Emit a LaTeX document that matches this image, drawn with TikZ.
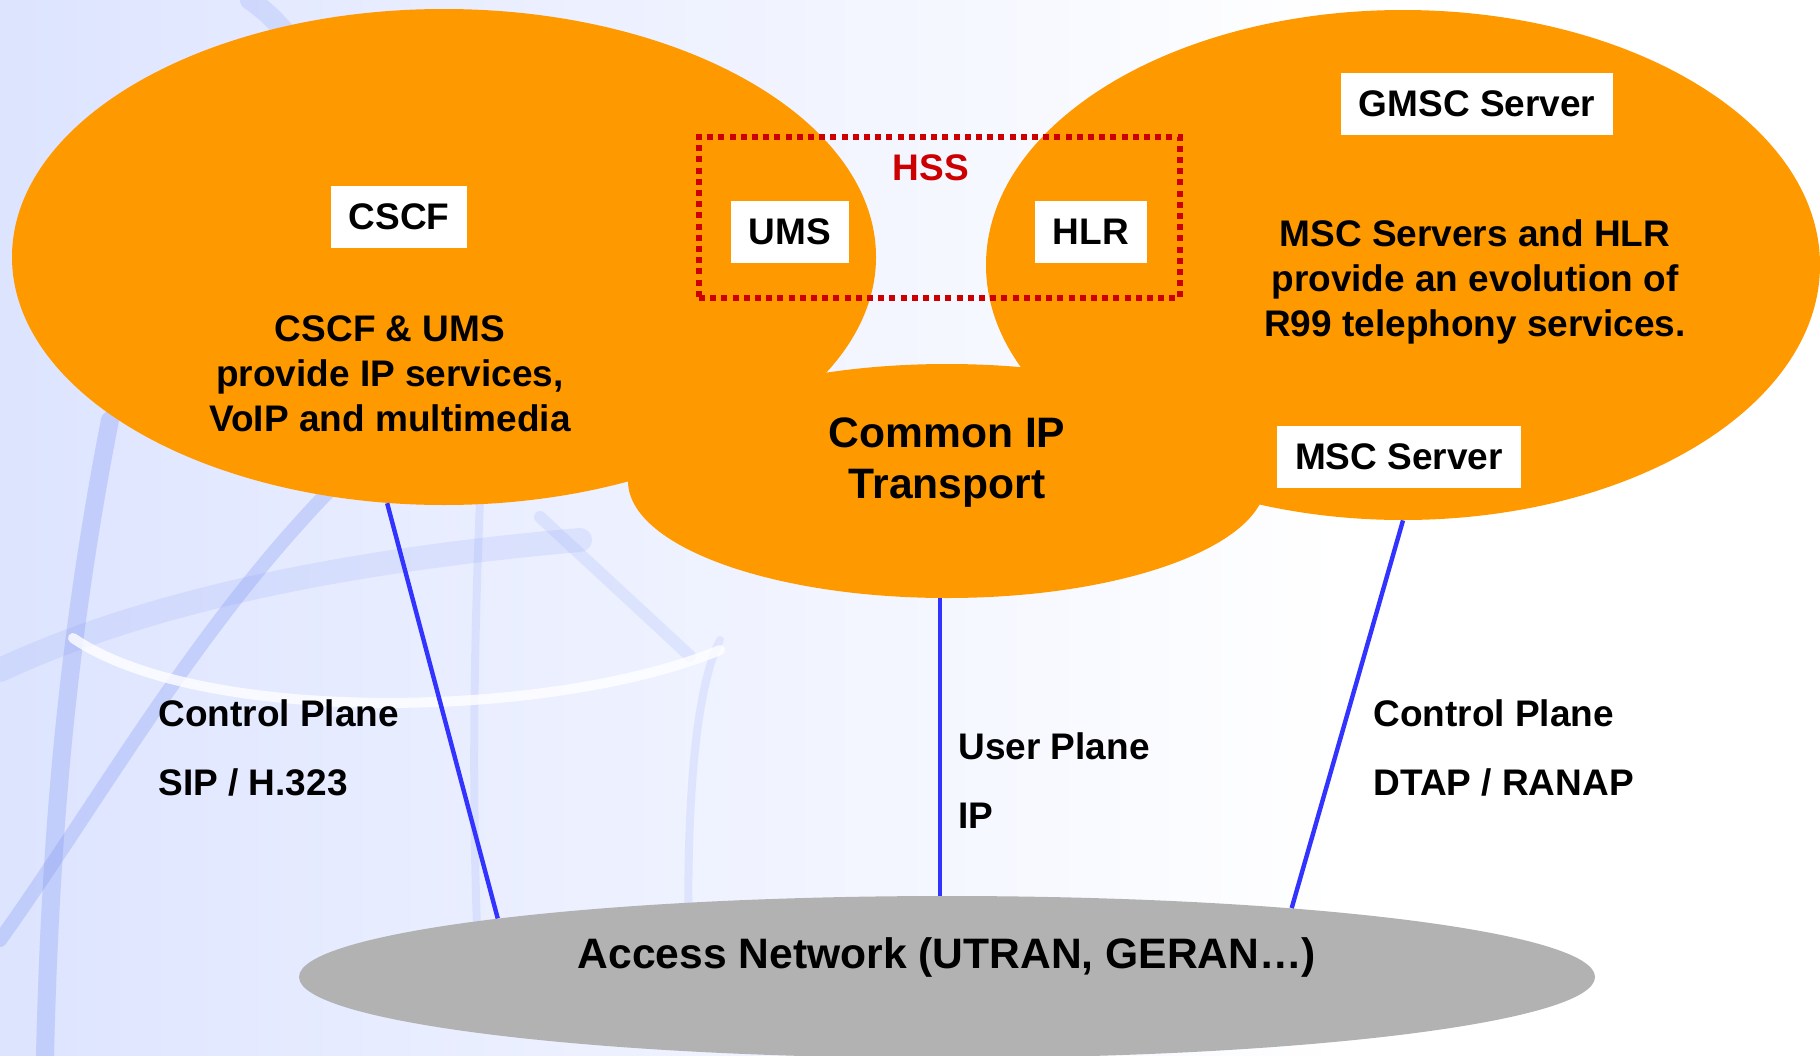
\documentclass[tikz,border=0pt]{standalone}
\usepackage{fontspec}
\setmainfont{Liberation Sans}
\usetikzlibrary{shapes.geometric,calc}
\definecolor{cloudorange}{HTML}{FF9900}
\definecolor{accessgray}{HTML}{B2B2B2}
\definecolor{planeblue}{HTML}{3333FF}
\definecolor{hssred}{HTML}{CC0000}
\definecolor{bgblue}{HTML}{C2CEFA}
\definecolor{bglight}{HTML}{E2E8FF}
\definecolor{arcblue}{HTML}{7F96F2}
\pgfdeclarehorizontalshading{bgfade}{100bp}{color(0bp)=(bgblue); color(30bp)=(bglight); color(62bp)=(white); color(100bp)=(white)}
\newcommand{\normaltext}{\fontsize{18.5}{22.5}\selectfont\bfseries}
\newcommand{\bigtext}{\fontsize{21.3}{25.5}\selectfont\bfseries}
\tikzset{
  orangecloud/.style={ellipse, fill=cloudorange, inner sep=0pt},
  whitebox/.style={fill=white, inner xsep=9pt, minimum height=31pt, font=\normaltext},
  hssframe/.style={draw=hssred, line width=2.6pt, dash pattern=on 3pt off 2.6pt, inner sep=0pt},
  infotext/.style={align=center, font=\normaltext},
  planelabel/.style={align=left, anchor=west, inner sep=0pt, font=\fontsize{18.5}{34.5}\selectfont\bfseries},
  plane/.style={draw=planeblue, line width=2.2pt},
  globearc/.style={draw=arcblue, opacity=0.3, line cap=round}
}
\begin{document}
\begin{tikzpicture}[x=0.5pt,y=-0.5pt]
\useasboundingbox (0,0) rectangle (1820,1055);
\shade[shading=bgfade] (0,0) rectangle (1820,1055);
\draw[globearc, line width=9pt] (45,1055) .. controls (50,850) and (65,650) .. (110,420);
\draw[globearc, line width=7pt] (0,940) .. controls (100,800) and (200,620) .. (340,480);
\draw[globearc, line width=12pt, opacity=0.15] (0,670) .. controls (150,600) and (350,560) .. (580,540);
\draw[globearc, line width=4pt, opacity=0.15] (480,1000) .. controls (470,800) and (475,620) .. (480,500);
\draw[globearc, line width=4pt, opacity=0.15] (690,1000) .. controls (685,850) and (690,700) .. (720,640);
\draw[globearc, line width=6pt, opacity=0.15] (540,517) -- (690,656);
\draw[globearc, line width=10pt, opacity=0.2] (250,0) .. controls (280,20) and (300,50) .. (320,80);
\draw[white, opacity=0.8, line width=5pt, line cap=round] (73,638) .. controls (200,725) and (550,720) .. (720,650);

\node[orangecloud, minimum width=432pt, minimum height=248pt] (imscloud) at (444,257) {};
\node[orangecloud, minimum width=417pt, minimum height=255pt] (cscloud) at (1403,265) {};
\node[orangecloud, minimum width=319pt, minimum height=117pt] (ipcloud) at (947,481) {};
\node[ellipse, fill=accessgray, inner sep=0pt, minimum width=648pt, minimum height=81pt] (access) at (947,977) {};

\draw[plane] (imscloud.257) -- ($(access.172)!0.55!(access.173)$);
\draw[plane] ([xshift=-3.5pt]ipcloud.south) -- ([xshift=-3.5pt]access.north);
\draw[plane] (cscloud.south) -- ($(access.11)!0.32!(access.12)$);

\node[whitebox] (cscf) at (399,217) {CSCF};
\node[whitebox] (ums) at (790,232) {UMS};
\node[whitebox] (hlr) at (1091,232) {HLR};
\node[whitebox] (gmsc) at (1477,104) {GMSC Server};
\node[whitebox] (msc) at (1399,457) {MSC Server};
\node[hssframe, minimum width=240.5pt, minimum height=80.5pt] (hss) at (939.5,217.5) {};
\node[font=\normaltext, text=hssred] (hsslabel) at (931,168) {HSS};

\node[infotext] (imsinfo) at (390,374) {CSCF \& UMS\\provide IP services,\\VoIP and multimedia};
\node[infotext] (csinfo) at (1475,282) {MSC Servers and HLR\\provide an evolution of\\R99 telephony services.};
\node[align=center, font=\bigtext] (iptext) at (947,463) {Common IP\\Transport};
\node[font=\bigtext] (accesstext) at (947,957) {Access Network (UTRAN, GERAN…)};

\node[planelabel] (imsplane) at (158,748) {Control Plane\\SIP / H.323};
\node[planelabel] (userplane) at (958,781) {User Plane\\IP};
\node[planelabel] (csplane) at (1373,748) {Control Plane\\DTAP / RANAP};
\end{tikzpicture}
\end{document}
